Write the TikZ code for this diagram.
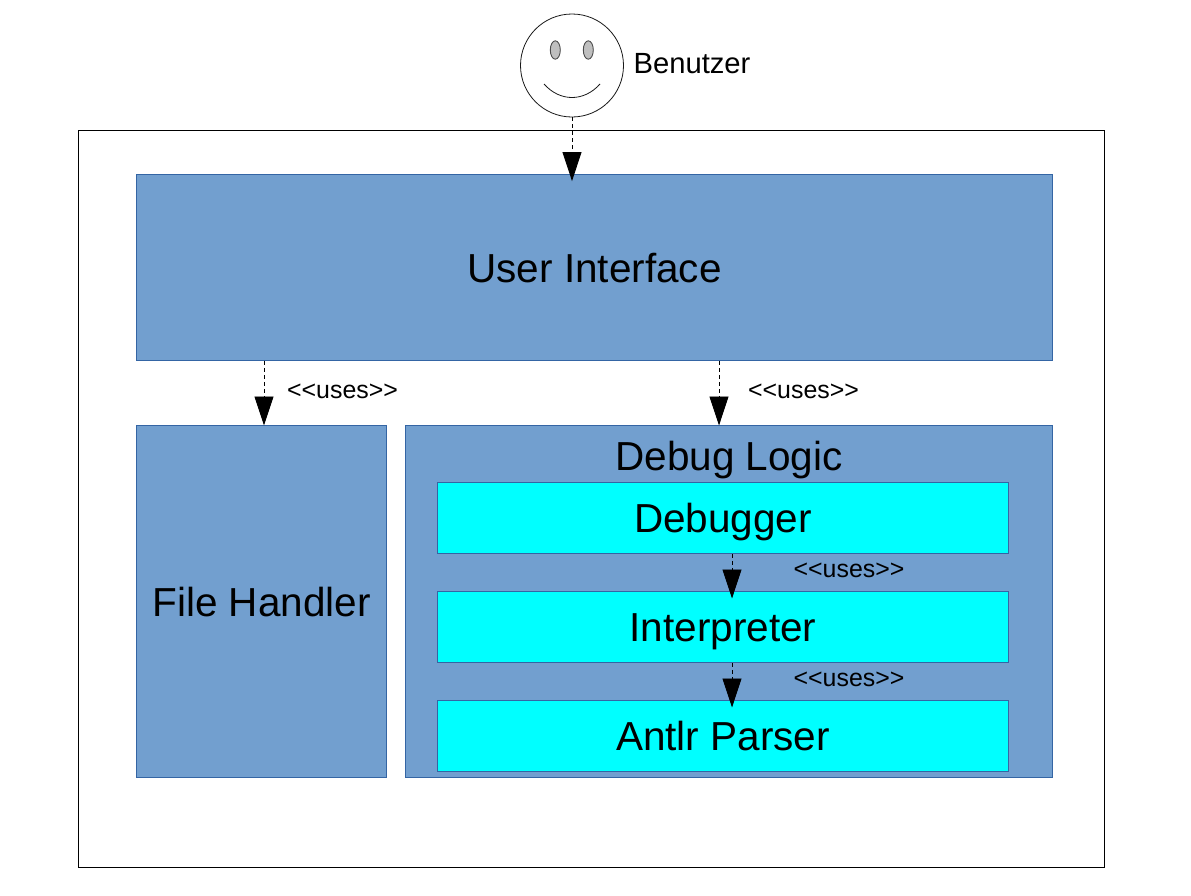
\documentclass[tikz,border=0pt]{standalone}
\usepackage{fontspec}
\setmainfont{Liberation Sans}
\usetikzlibrary{arrows.meta}
\tikzset{
  x=1pt,y=-1pt,
  big text/.style={font=\fontsize{40.5}{44}\selectfont,text height=38pt,text depth=8pt,inner sep=0pt},
  box/.style={draw=boxline,fill=boxblue,line width=0.9pt,minimum width=#1,big text},
  inner box/.style={box=571pt,fill=cyan,minimum height=71pt,text height=36pt},
  uses/.style={-{Triangle[length=29pt,width=19pt]},dash pattern=on 4pt off 3pt,line width=0.9pt,shorten >=-7pt},
  uses label/.style={font=\fontsize{24.9}{28}\selectfont,text height=18pt,text depth=2pt,inner sep=0pt},
}
\definecolor{boxblue}{HTML}{729FCF}
\definecolor{boxline}{HTML}{3465A4}
\definecolor{cyan}{HTML}{00FFFF}
\begin{document}
\begin{tikzpicture}
  \useasboundingbox (0,0) rectangle (1191,895);
  \node[draw=black,line width=0.9pt,minimum width=1026pt,minimum height=737pt,inner sep=0pt] (system) at (591.5,499) {};
  % actor
  \node[draw=black!90,line width=0.8pt,circle,minimum size=103pt,inner sep=0pt] (face) at (572,65.5) {};
  \draw[black!70,line width=0.9pt,fill=black!25] (555.3,50) ellipse (5 and 9.2);
  \draw[black!70,line width=0.9pt,fill=black!25] (588.3,50) ellipse (5 and 9.2);
  \draw[black!90,line width=0.8pt] (544,84) .. controls (560,102) and (584,102) .. (600,84);
  \node[font=\fontsize{29.2}{32}\selectfont,text height=25pt,text depth=5pt,inner sep=0pt] (benutzer) at (692,63) {Benutzer};
  % components
  \node[box=916pt,minimum height=186pt] (ui) at (594.5,267.5) {User Interface};
  \node[box=250pt,minimum height=352pt] (fh) at (261.5,601.5) {File Handler};
  \node[box=647pt,minimum height=352pt] (dl) at (729,601.5) {};
  \node[big text] (dltext) at (729,455) {Debug Logic};
  \node[inner box] (debugger) at (723,518) {Debugger};
  \node[inner box] (interp) at (723,627) {Interpreter};
  \node[inner box] (parser) at (723,736) {Antlr Parser};
  % connectors
  \coordinate (fhtop) at (264,425.5);
  \coordinate (dltop) at (719,425.5);
  \coordinate (interptop) at (732,591.5);
  \coordinate (parsertop) at (732,700.5);
  \draw[uses] (face) -- (face |- ui.north);
  \draw[uses,shorten >=0pt] (ui.south -| fhtop) -- (fhtop);
  \draw[uses,shorten >=0pt] (ui.south -| dltop) -- (dltop);
  \draw[uses] (debugger.south -| interptop) -- (interptop);
  \draw[uses] (interp.south -| parsertop) -- (parsertop);
  \node[uses label] (uses1) at (342.5,390) {<{}<uses>{}>};
  \node[uses label] (uses2) at (803.5,390) {<{}<uses>{}>};
  \node[uses label] (uses3) at (849,569) {<{}<uses>{}>};
  \node[uses label] (uses4) at (849,678) {<{}<uses>{}>};
\end{tikzpicture}
\end{document}
